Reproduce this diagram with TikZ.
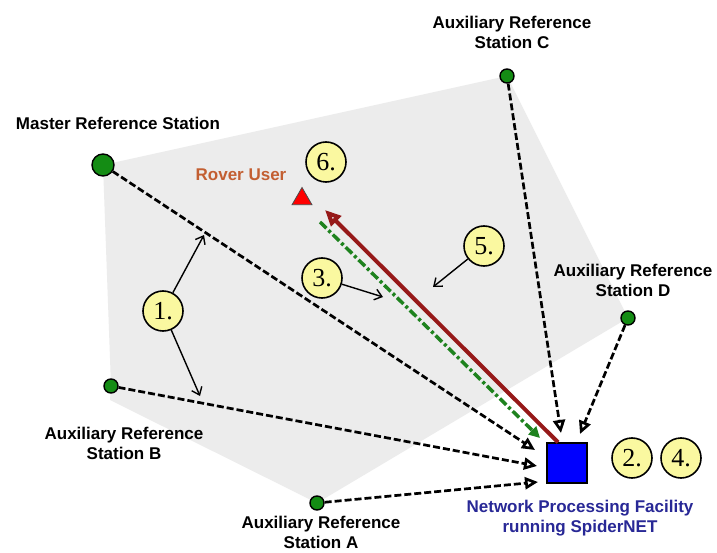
\documentclass[tikz,border=0pt]{standalone}
\usepackage{fontspec}
\setmainfont{Liberation Serif}
\setsansfont{Liberation Sans}
\usetikzlibrary{arrows.meta,shapes.geometric,backgrounds}

\definecolor{stgreen}{RGB}{20,140,20}
\definecolor{hullgray}{RGB}{236,236,236}
\definecolor{numyellow}{RGB}{250,248,160}
\definecolor{linkred}{RGB}{150,25,25}
\definecolor{corrgreen}{RGB}{30,130,30}
\definecolor{roverorange}{RGB}{195,95,50}
\definecolor{npfblue}{RGB}{40,40,150}

\begin{document}
\begin{tikzpicture}[x=1pt,y=-1pt,
  station/.style={circle,draw=black,fill=stgreen,line width=1.4pt,inner sep=0pt,minimum size=14pt},
  lbl/.style={font=\sffamily\bfseries\fontsize{17}{20}\selectfont,align=center},
  num/.style={circle,draw=black,line width=1.6pt,fill=numyellow,minimum size=40pt,inner sep=0pt,
    font=\fontsize{26}{26}\selectfont},
  obs/.style={line width=2.7pt,dash pattern=on 7pt off 3pt,-{Triangle[open,length=13pt,width=12pt]}},
  pointer/.style={line width=1.4pt,-{Straight Barb[length=7pt,width=11pt]}}]
\useasboundingbox (0,0) rectangle (717,553);

% stations
\node[station,minimum size=22pt] (mrs) at (103,165) {};
\node[station] (arsA) at (317,503) {};
\node[station] (arsB) at (111,386) {};
\node[station] (arsC) at (507,76) {};
\node[station] (arsD) at (628,318) {};
\node[draw=black,fill=blue,line width=1.4pt,minimum size=40pt,inner sep=0pt] (npf) at (567,463) {};
\node[regular polygon,regular polygon sides=3,fill=red,draw=black!70,line width=0.8pt,
  minimum size=23pt,inner sep=0pt] (rover) at (302,199) {};

% labels
\node[lbl] (lmrs) at (118,123) {Master Reference Station};
\node[lbl,text=roverorange] (lrover) at (241,175) {Rover User};
\node[lbl] (lC) at (512,32) {Auxiliary Reference\\Station C};
\node[lbl] (lD) at (633,280) {Auxiliary Reference\\Station D};
\node[lbl] (lB) at (124,443) {Auxiliary Reference\\Station B};
\node[lbl] (lA) at (321,532) {Auxiliary Reference\\Station A};
\node[lbl,text=npfblue] (lnpf) at (580,518) {Network Processing Facility\\running SpiderNET};

% steps
\node[num] (n1) at (163,311) {1.};
\node[num] (n3) at (322,278) {3.};
\node[num] (n5) at (484,246) {5.};
\node[num] (n6) at (326,162) {6.};
\node[num] (n2) at (632,458) {2.};
\node[num] (n4) at (681,458) {4.};

% coverage area
\begin{scope}[on background layer]
\fill[white] (0,0) rectangle (717,553);
\fill[hullgray] (mrs.center) -- (arsC.center) -- (arsD.center) -- (arsA.center)
  -- (110,400) -- (arsB.center) -- cycle;
\end{scope}

% arrow ends near the facility
\coordinate (tM) at (535,450);
\coordinate (tB) at (537,466);
\coordinate (tA) at (538,482);
\coordinate (tC) at (561,433);
\coordinate (tD) at (580,434);
\coordinate (tG) at (540,438);
\coordinate (sG) at (320,222);
\coordinate (tR) at (325,210);

\draw[obs] (mrs) -- (tM);
\draw[obs] (arsB) -- (tB);
\draw[obs] (arsA) -- (tA);
\draw[obs] (arsC) -- (tC);
\draw[obs] (arsD) -- (tD);
\draw[corrgreen,line width=3.5pt,dash pattern=on 9pt off 3pt on 3pt off 3pt,
  -{Triangle[length=11pt,width=11pt]}] (sG) -- (tG);
\draw[linkred,line width=4pt,-{Triangle[open,length=16pt,width=14pt]}]
  ([xshift=-9pt]npf.north) -- (tR);

% pointers
\coordinate (p1a) at (204,235);
\coordinate (p1b) at (200,396);
\coordinate (p3) at (383,297);
\coordinate (p5) at (433,287);
\draw[pointer] (n1) -- (p1a);
\draw[pointer] (n1) -- (p1b);
\draw[pointer] (n3) -- (p3);
\draw[pointer] (n5) -- (p5);
\end{tikzpicture}
\end{document}
